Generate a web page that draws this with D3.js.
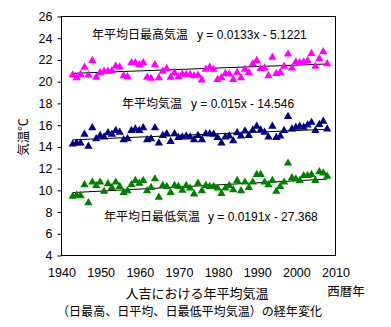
<!DOCTYPE html>
<html><head><meta charset="utf-8">
<script src="https://cdn.jsdelivr.net/npm/d3@7"></script>
<style>
html,body{margin:0;padding:0;background:#fff;}
svg{display:block;}
text{fill:#000;}
</style></head>
<body>
<svg id="c" width="391" height="327"></svg>
<script>
const years = [1943,1944,1945,1946,1947,1948,1949,1950,1951,1952,1953,1954,1955,1956,1957,1958,1959,1960,1961,1962,1963,1964,1965,1966,1967,1968,1969,1970,1971,1972,1973,1974,1975,1976,1977,1978,1979,1980,1981,1982,1983,1984,1985,1986,1987,1988,1989,1990,1991,1992,1993,1994,1995,1996,1997,1998,1999,2000,2001,2002,2003,2004,2005,2006,2007,2008];
const maxTemp = [20.57,20.3,20.6,21.27,20.57,21.9,20.35,20.8,20.9,20.9,20.95,21.4,21.3,20.5,20.4,21.7,21.7,21.5,21.7,20.35,20.25,21.5,20.3,20.9,21.15,20.35,20.8,20.4,20.65,20.6,20.6,20.5,20.55,20.1,21.1,21.27,21.1,20.15,20.3,20.7,20.65,20.15,20.8,20.3,21.1,20.8,21.6,21.9,21.15,21.2,20.5,22.2,20.7,20.8,21.37,22.5,21.2,21.75,21.7,21.75,21.9,22.55,21.37,22.05,22.7,21.6];
const meanTemp = [14.2,14.3,14.3,15.1,14.0,15.7,14.7,15.0,14.85,15.25,15.1,15.45,15.3,14.6,14.7,15.45,15.6,15.45,15.7,14.6,14.7,15.7,14.3,15.0,15.15,14.45,15.15,14.8,14.85,14.95,14.85,14.6,15.0,14.6,15.15,15.15,15.1,14.8,14.3,14.85,14.95,14.5,15.25,14.95,15.4,15.0,15.5,15.85,15.5,15.3,14.85,15.85,14.8,14.95,15.45,16.75,15.6,15.75,15.85,15.75,15.95,16.2,15.45,16.0,16.3,15.6];
const minTemp = [9.4,9.5,9.45,10.45,8.8,10.7,10.4,10.7,9.85,10.55,10.2,10.7,10.3,9.75,9.9,10.45,10.85,10.6,10.85,9.9,10.2,11.0,9.3,10.4,10.3,9.75,10.4,10.3,9.95,10.4,10.15,9.6,10.6,9.9,10.4,10.3,10.3,10.15,9.65,10.15,10.4,10.0,10.85,9.9,10.7,10.2,10.7,11.4,11.4,10.7,10.45,10.85,9.85,10.3,10.7,12.45,11.1,11.0,10.85,11.3,11.3,11.4,10.85,11.65,11.55,11.25];
const seriesNames = ["年平均日最高気温","年平均気温","年平均日最低気温"];
const equations = ["y = 0.0133x - 5.1221","y = 0.015x - 14.546","y = 0.0191x - 27.368"];
const slopes = [0.0133,0.015,0.0191];
const intercepts = [-5.1221,-14.546,-27.368];
const xTicks = [1940,1950,1960,1970,1980,1990,2000,2010];
const yTicks = [4,6,8,10,12,14,16,18,20,22,24,26];
const yLabel = "気温℃";
const xLabel = "西暦年";
const title1 = "人吉における年平均気温";
const title2 = "（日最高、日平均、日最低平均気温）の経年変化";

const colors = ["#FF00FF","#000080","#008000"];
const labelPos = [{jx:92,ex:197,y:39},{jx:122,ex:191,y:108},{jx:104,ex:208,y:221}];

const svg = d3.select("#c");
const L=61,R=335,T=16,B=255;
const x = d3.scaleLinear().domain([1940,2010]).range([L,R]);
const y = d3.scaleLinear().domain([4,26]).range([B,T]);
const latin = "Liberation Sans, Arial, sans-serif";
const cjk = "'Noto Sans CJK JP', sans-serif";

// frame
svg.append("rect").attr("x",L+0.5).attr("y",T+0.5).attr("width",R-L).attr("height",B-T)
  .attr("fill","none").attr("stroke","#000").attr("stroke-width",1);

// y axis
const ya = svg.append("g").attr("transform",`translate(${L+0.5},0.5)`)
  .call(d3.axisLeft(y).tickValues(yTicks).tickSize(4).tickSizeOuter(0).tickFormat(d3.format("d")));
ya.select(".domain").remove();
ya.selectAll("text").attr("font-family",latin).attr("font-size",12.5).attr("fill","#000").attr("x",-9);

// x axis labels
const xa = svg.append("g").attr("transform",`translate(0.5,${B+0.5})`)
  .call(d3.axisBottom(x).tickValues(xTicks).tickSize(0).tickFormat(d3.format("d")));
xa.select(".domain").remove();
xa.selectAll("text").attr("font-family",latin).attr("font-size",12.5).attr("fill","#000").attr("dy",0).attr("y",21);

const data = [maxTemp, meanTemp, minTemp];
const tri = d3.symbol().type(d3.symbolTriangle).size(30);
data.forEach((vals,i)=>{
  const x0 = years[0], x1 = years[years.length-1];
  svg.append("line")
    .attr("x1",x(x0)).attr("x2",x(x1))
    .attr("y1",y(slopes[i]*x0+intercepts[i])).attr("y2",y(slopes[i]*x1+intercepts[i]))
    .attr("stroke","#000").attr("stroke-width",1);
  svg.append("g").selectAll("path").data(vals).join("path")
    .attr("d",tri)
    .attr("transform",(d,j)=>`translate(${x(years[j])},${y(d)})`)
    .attr("fill",colors[i]);
  svg.append("text").attr("x",labelPos[i].jx).attr("y",labelPos[i].y)
    .attr("font-family",cjk).attr("font-size",12).text(seriesNames[i]);
  svg.append("text").attr("x",labelPos[i].ex).attr("y",labelPos[i].y)
    .attr("font-family",latin).attr("font-size",12).text(equations[i]);
});

svg.append("text").attr("transform","translate(28,137) rotate(-90)")
  .attr("text-anchor","middle").attr("font-family",cjk).attr("font-size",12.5).text(yLabel);
svg.append("text").attr("x",346).attr("y",296).attr("text-anchor","middle")
  .attr("font-family",cjk).attr("font-size",12.5).text(xLabel);
svg.append("text").attr("x",197).attr("y",297.5).attr("text-anchor","middle")
  .attr("font-family",cjk).attr("font-size",13).text(title1);
svg.append("text").attr("x",57).attr("y",316)
  .attr("font-family",cjk).attr("font-size",12.5).attr("textLength",265).attr("lengthAdjust","spacingAndGlyphs").text(title2);
</script>
</body></html>
